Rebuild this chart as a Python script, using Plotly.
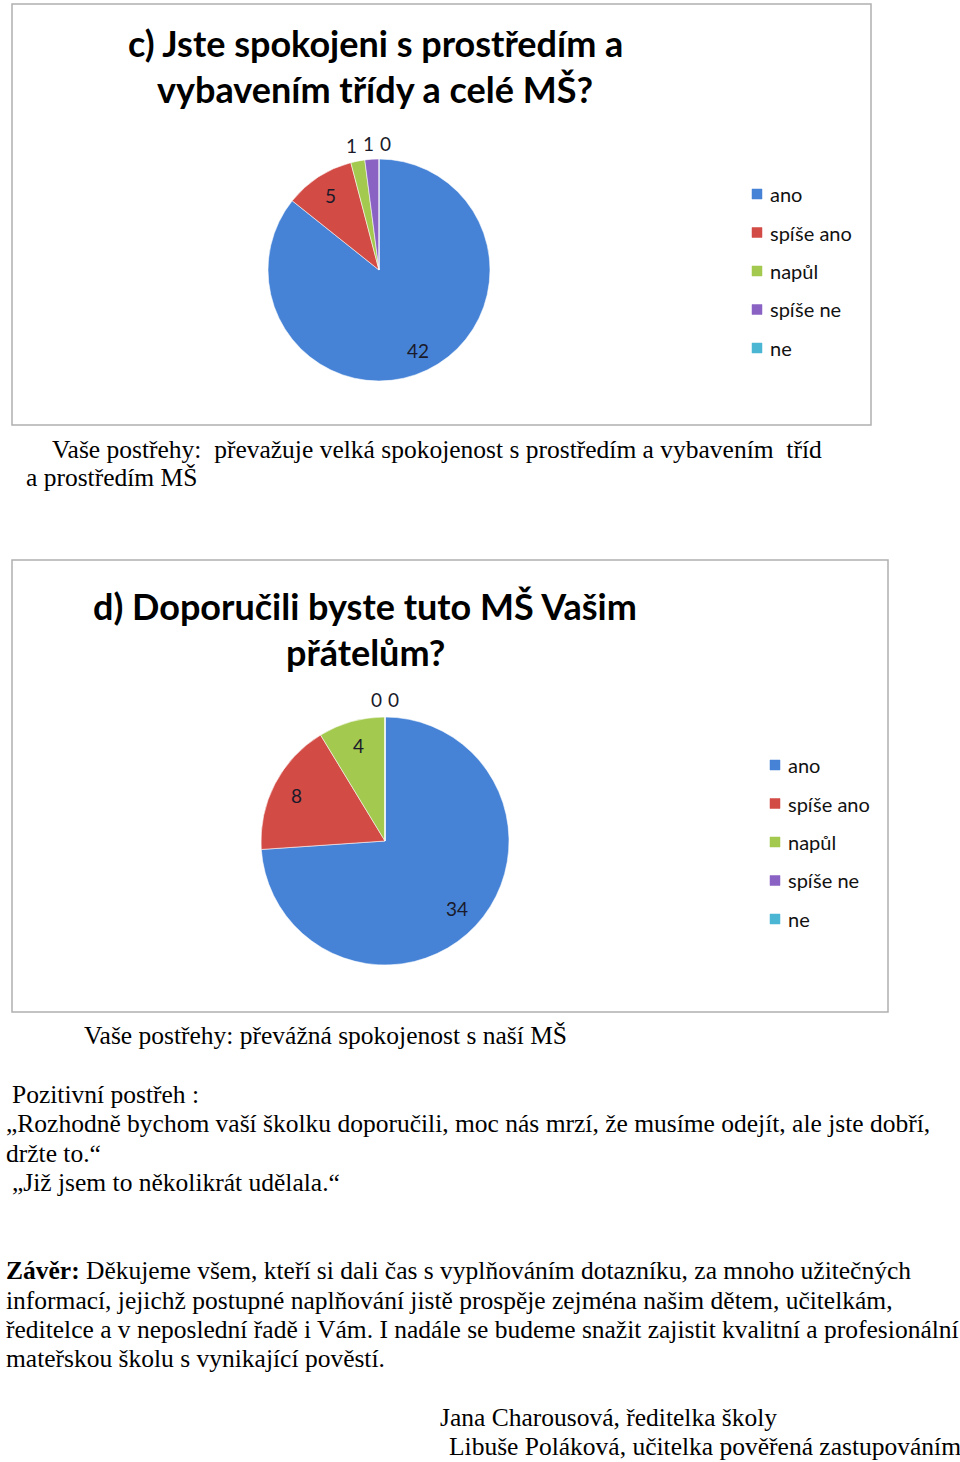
import math
import plotly.graph_objects as go

W, H = 960, 1462

categories = ["ano", "spíše ano", "napůl", "spíše ne", "ne"]
values_c = [42, 5, 1, 1, 0]
values_d = [34, 8, 4, 0, 0]
colors = ["#4683d6", "#d24b45", "#a3c94f", "#8a62c4", "#4bb6d4"]

title_c = ["c) Jste spokojeni s prostředím a", "vybavením třídy a celé MŠ?"]
title_d = ["d) Doporučili byste tuto MŠ Vašim", "přátelům?"]

TITLE_FONT = "Lato"
LABEL_FONT = "Lato"
BODY_FONT = "Liberation Serif"


def px(x):
    return x / W


def py(y):
    return 1 - y / H


fig = go.Figure()
annotations = []
shapes = []

# pie geometry (pixel centers/radii)
pies = [
    dict(vals=values_c, cx=379, cy=270, r=111, legx=752, legy=194),
    dict(vals=values_d, cx=385, cy=841, r=124, legx=770, legy=765),
]

for i, p in enumerate(pies):
    cx, cy, r = p["cx"], p["cy"], p["r"]
    fig.add_trace(go.Pie(
        labels=categories,
        values=p["vals"],
        marker=dict(colors=colors, line=dict(color="rgba(255,255,255,0.55)", width=1)),
        sort=False,
        direction="clockwise",
        rotation=0,
        textinfo="none",
        hoverinfo="label+value",
        showlegend=False,
        domain=dict(x=[px(cx - r), px(cx + r)], y=[py(cy + r), py(cy - r)]),
    ))

    # data labels computed from slice angles
    total = sum(p["vals"])
    cum = 0
    inside, outside = [], []
    for v in p["vals"]:
        frac0 = cum / total
        cum += v
        frac1 = cum / total
        mid = (frac0 + frac1) / 2 * 2 * math.pi
        if v / total > 0.05:
            f = 0.8
            inside.append([cx + f * r * math.sin(mid), cy - f * r * math.cos(mid), v])
        else:
            f = 1.14
            outside.append([cx + f * r * math.sin(mid), cy - f * r * math.cos(mid), v])
    # spread overlapping outside labels horizontally
    gap = 17
    for _ in range(10):
        outside.sort(key=lambda t: t[0])
        moved = False
        clusters = [[outside[0]]] if outside else []
        for lab in outside[1:]:
            if lab[0] - clusters[-1][-1][0] < gap - 0.01:
                clusters[-1].append(lab)
            else:
                clusters.append([lab])
        for cl in clusters:
            if len(cl) > 1:
                m = sum(t[0] for t in cl) / len(cl)
                start = m - gap * (len(cl) - 1) / 2
                for k, t in enumerate(cl):
                    if abs(t[0] - (start + k * gap)) > 0.01:
                        moved = True
                    t[0] = start + k * gap
        if not moved:
            break
    for x, y, v in inside + outside:
        annotations.append(dict(
            x=px(x), y=py(y), xref="paper", yref="paper", text=str(v),
            showarrow=False, xanchor="center", yanchor="middle",
            font=dict(family=LABEL_FONT, size=19, color="#1a1a2a"),
        ))

    # legend
    for k, (cat, col) in enumerate(zip(categories, colors)):
        ly = p["legy"] + k * 38.5
        lx = p["legx"]
        shapes.append(dict(type="rect", xref="paper", yref="paper",
                           x0=px(lx), x1=px(lx + 10), y0=py(ly + 5), y1=py(ly - 5),
                           fillcolor=col, line=dict(color=col, width=0.5)))
        annotations.append(dict(
            x=px(lx + 16), y=py(ly), xref="paper", yref="paper", text=cat,
            showarrow=False, xanchor="left", yanchor="middle",
            font=dict(family=LABEL_FONT, size=20, color="#111111"),
        ))

# chart frames
for x0, y0, x1, y1 in [(12, 4, 871, 425), (12, 560, 888, 1012)]:
    shapes.append(dict(type="rect", xref="paper", yref="paper",
                       x0=px(x0), x1=px(x1), y0=py(y1), y1=py(y0),
                       line=dict(color="#b0b0b0", width=1.5), fillcolor="rgba(0,0,0,0)",
                       layer="below"))

# titles
for lines, xc, ys in [(title_c, 375, [43, 89]), (title_d, 365, [606, 652])]:
    for t, y in zip(lines, ys):
        annotations.append(dict(
            x=px(xc), y=py(y), xref="paper", yref="paper", text="<b>" + t + "</b>",
            showarrow=False, xanchor="center", yanchor="middle",
            font=dict(family=TITLE_FONT, size=36, color="#000000"),
        ))

# body text
body = [
    (50, 449, "Vaše postřehy:  převažuje velká spokojenost s prostředím a vybavením  tříd"),
    (24, 478, "a prostředím MŠ"),
    (82, 1035, "Vaše postřehy: převážná spokojenost s naší MŠ"),
    (10, 1094, "Pozitivní postřeh :"),
    (4, 1123, "„Rozhodně bychom vaší školku doporučili, moc nás mrzí, že musíme odejít, ale jste dobří,"),
    (4, 1153, "držte to.“"),
    (10, 1182, "„Již jsem to několikrát udělala.“"),
    (4, 1270, "<b>Závěr:</b> Děkujeme všem, kteří si dali čas s vyplňováním dotazníku, za mnoho užitečných"),
    (4, 1300, "informací, jejichž postupné naplňování jistě prospěje zejména našim dětem, učitelkám,"),
    (4, 1329, "ředitelce a v neposlední řadě i Vám. I nadále se budeme snažit zajistit kvalitní a profesionální"),
    (4, 1358, "mateřskou školu s vynikající pověstí."),
    (438, 1417, "Jana Charousová, ředitelka školy"),
    (447, 1446, "Libuše Poláková, učitelka pověřená zastupováním"),
]
for x, y, t in body:
    annotations.append(dict(
        x=px(x), y=py(y), xref="paper", yref="paper", text=t,
        showarrow=False, xanchor="left", yanchor="middle",
        font=dict(family=BODY_FONT, size=25.5, color="#000000"),
    ))

fig.update_layout(
    width=W, height=H,
    margin=dict(l=0, r=0, t=0, b=0),
    paper_bgcolor="white", plot_bgcolor="white",
    annotations=annotations, shapes=shapes,
    showlegend=False,
)

fig.write_html("out.html")
